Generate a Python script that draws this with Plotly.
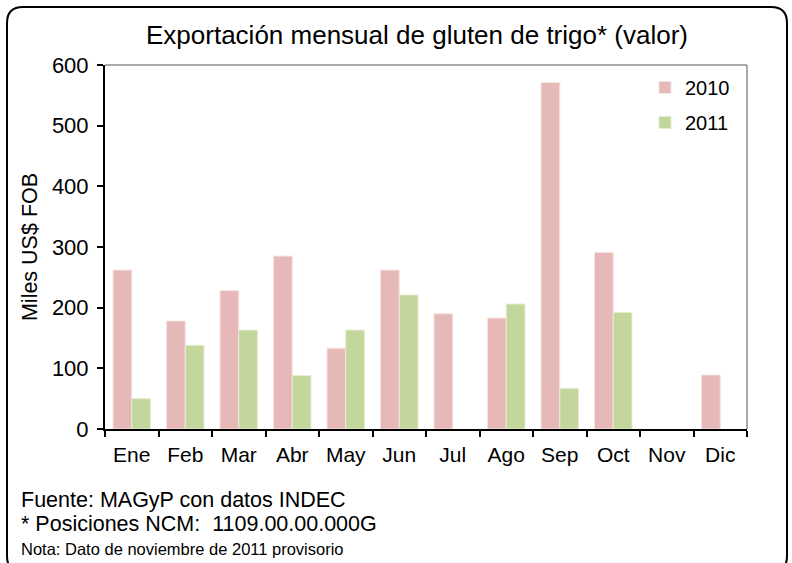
import plotly.graph_objects as go

months = ["Ene", "Feb", "Mar", "Abr", "May", "Jun", "Jul", "Ago", "Sep", "Oct", "Nov", "Dic"]
v2010 = [262, 178, 228, 285, 133, 262, 190, 183, 571, 291, None, 89]
v2011 = [50, 138, 163, 88, 163, 221, None, 206, 67, 192, None, None]
yticks = [0, 100, 200, 300, 400, 500, 600]

W, H = 792, 563
L, R, T, B = 105, 747, 65, 429

def px(x):
    return (x - L) / (R - L)

def py(y):
    return (B - y) / (B - T)

FONT = "Liberation Sans, Arial, sans-serif"

fig = go.Figure()
fig.add_trace(go.Bar(x=months, y=v2010, name="2010",
                     marker=dict(color="#E6B9B8", line=dict(color="#F5E3E2", width=1)),
                     legendgroup="a"))
fig.add_trace(go.Bar(x=months, y=v2011, name="2011",
                     marker=dict(color="#C3D69B", line=dict(color="#E4EDD0", width=1)),
                     legendgroup="b"))

# rounded outer border
x0, x1, y0, y1, r = 7, 787, 7, 572, 16
path = (f"M {px(x0+r)},{py(y0)} L {px(x1-r)},{py(y0)} Q {px(x1)},{py(y0)} {px(x1)},{py(y0+r)} "
        f"L {px(x1)},{py(y1-r)} Q {px(x1)},{py(y1)} {px(x1-r)},{py(y1)} "
        f"L {px(x0+r)},{py(y1)} Q {px(x0)},{py(y1)} {px(x0)},{py(y1-r)} "
        f"L {px(x0)},{py(y0+r)} Q {px(x0)},{py(y0)} {px(x0+r)},{py(y0)} Z")

shapes = [
    dict(type="path", xref="paper", yref="paper", path=path,
         line=dict(color="black", width=2), fillcolor="rgba(0,0,0,0)"),
    dict(type="line", xref="paper", yref="paper", x0=0, x1=1, y0=1, y1=1,
         line=dict(color="#8C8C8C", width=1.5)),
    dict(type="line", xref="paper", yref="paper", x0=1, x1=1, y0=0, y1=1,
         line=dict(color="#8C8C8C", width=1.5)),
]

annotations = [
    dict(text="Fuente: MAGyP con datos INDEC", x=px(19), y=py(500), xref="paper", yref="paper",
         xanchor="left", yanchor="middle", showarrow=False, font=dict(size=21.5, color="black", family=FONT)),
    dict(text="* Posiciones NCM:  1109.00.00.000G", x=px(19), y=py(524), xref="paper", yref="paper",
         xanchor="left", yanchor="middle", showarrow=False, font=dict(size=21.5, color="black", family=FONT)),
    dict(text="Nota: Dato de noviembre de 2011 provisorio", x=px(19), y=py(549), xref="paper", yref="paper",
         xanchor="left", yanchor="middle", showarrow=False, font=dict(size=16.5, color="black", family=FONT)),
]

fig.update_layout(
    width=W, height=H,
    margin=dict(l=L, r=W - R, t=T, b=H - B),
    paper_bgcolor="white", plot_bgcolor="white",
    barmode="group", bargap=0.3, bargroupgap=0,
    font=dict(family=FONT, color="black", size=20),
    title=dict(text="Exportación mensual de gluten de trigo* (valor)", x=417 / W, xanchor="center",
               y=1 - 35 / H, yanchor="middle", font=dict(size=26, color="black", family=FONT)),
    showlegend=True,
    legend=dict(x=px(645), y=py(68), xanchor="left", yanchor="top", bgcolor="rgba(0,0,0,0)",
                font=dict(size=20, family=FONT), tracegroupgap=6, traceorder="grouped"),
    shapes=shapes,
    annotations=annotations,
)
fig.update_xaxes(showline=True, linecolor="black", linewidth=2, ticks="outside", tickson="boundaries",
                 ticklen=6, tickcolor="black", tickwidth=1.5, tickfont=dict(size=21), showgrid=False,
                 ticklabelstandoff=6)
fig.update_yaxes(range=[0, 600], tickvals=yticks, showline=True, linecolor="black", linewidth=2,
                 ticks="outside", ticklen=6, tickcolor="black", tickwidth=1.5, showgrid=False,
                 zeroline=False, tickfont=dict(size=22), ticklabelstandoff=4,
                 title=dict(text="Miles US$ FOB", font=dict(size=21.5), standoff=8))

fig.write_html("out.html", config={"displayModeBar": False},
               post_script="document.body.style.margin='0';document.body.style.overflow='hidden';")
